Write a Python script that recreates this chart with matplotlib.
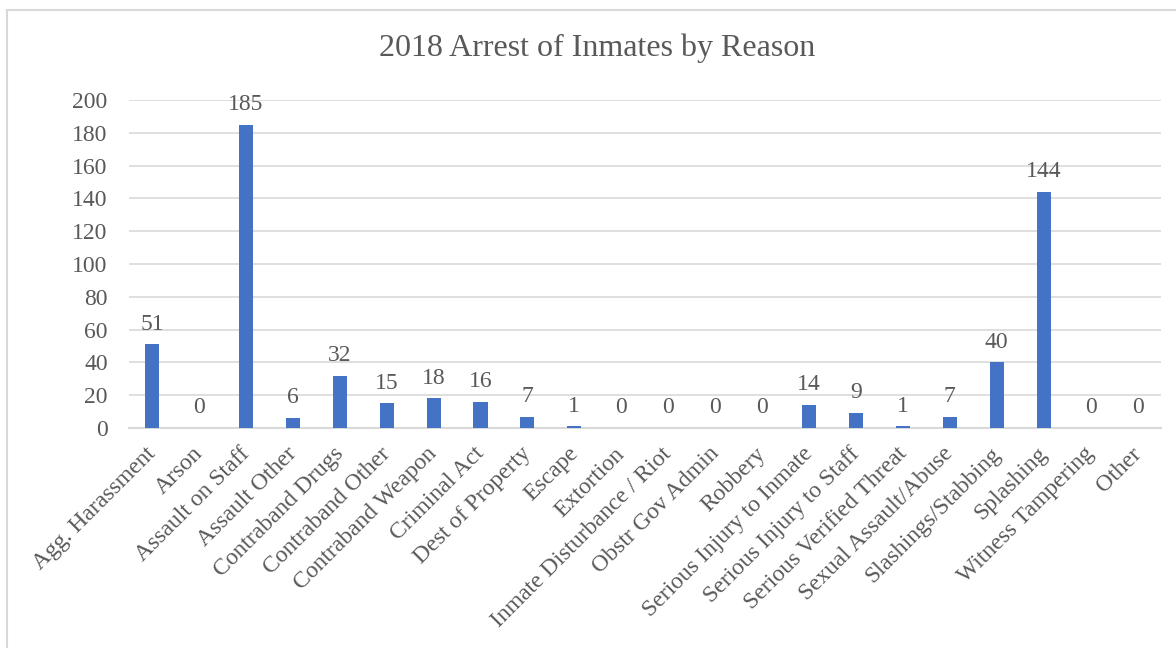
import matplotlib.pyplot as plt
from matplotlib.patches import Rectangle
from matplotlib.transforms import ScaledTranslation

reasons = ['Agg. Harassment', 'Arson', 'Assault on Staff', 'Assault Other',
           'Contraband Drugs', 'Contraband Other', 'Contraband Weapon',
           'Criminal Act', 'Dest of Property', 'Escape', 'Extortion',
           'Inmate Disturbance / Riot', 'Obstr Gov Admin', 'Robbery',
           'Serious Injury to Inmate', 'Serious Injury to Staff',
           'Serious Verified Threat', 'Sexual Assault/Abuse',
           'Slashings/Stabbing', 'Splashing', 'Witness Tampering', 'Other']
arrests = [51, 0, 185, 6, 32, 15, 18, 16, 7, 1, 0, 0, 0, 0, 14, 9, 1, 7, 40, 144, 0, 0]

plt.rcParams['font.family'] = ['Liberation Serif', 'DejaVu Serif']
txt = '#595959'
blue = '#4472C4'

fig = plt.figure(figsize=(11.76, 6.48), dpi=100)
fig.patches.append(Rectangle((7 / 1176, -0.1), 1.2, 1 - 10 / 648 + 0.1,
                             transform=fig.transFigure, fill=False,
                             edgecolor='#D9D9D9', linewidth=1.5))
ax = fig.add_axes([128.5 / 1176, (648 - 428) / 648, (1161 - 128.5) / 1176, 328 / 648])

x = range(len(reasons))
ax.bar(x, arrests, width=0.3, color=blue, zorder=3)
for i, v in zip(x, arrests):
    ax.text(i, v + 6, str(v), ha='center', va='bottom', fontsize=17, color=txt)

ax.set_xlim(-0.5, len(reasons) - 0.5)
ax.set_ylim(0, 200)
ax.set_yticks(range(0, 201, 20))
ax.grid(axis='y', color='#D9D9D9', linewidth=1.2, zorder=0)
for s in ['top', 'right', 'left']:
    ax.spines[s].set_visible(False)
ax.spines['bottom'].set_color('#D9D9D9')
ax.spines['bottom'].set_linewidth(1.5)
ax.tick_params(axis='both', length=0, colors=txt, labelsize=17)
ax.tick_params(axis='y', pad=15)
ax.tick_params(axis='x', pad=11)
ax.set_xticks(list(x))
ax.set_xticklabels(reasons, rotation=45, ha='right', rotation_mode='anchor')
shift = ScaledTranslation(-7 / 100, 0, fig.dpi_scale_trans)
for lab in ax.get_xticklabels():
    lab.set_transform(lab.get_transform() + shift)

fig.text(597 / 1176, 1 - 48 / 648, '2018 Arrest of Inmates by Reason',
         ha='center', va='center', fontsize=23, color=txt)

fig.savefig('out.png', dpi=100)
